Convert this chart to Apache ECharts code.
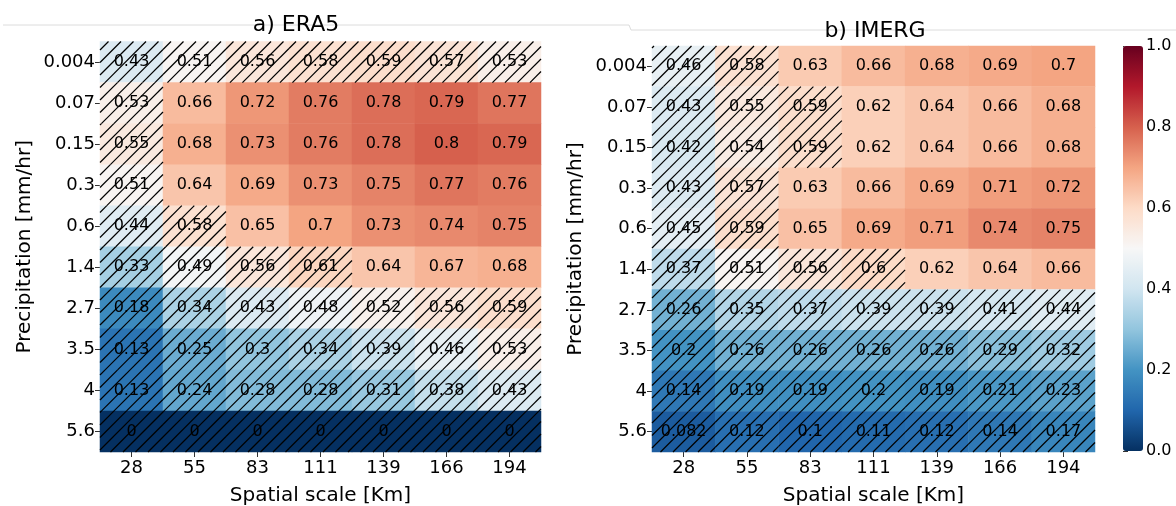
<!DOCTYPE html>
<html>
<head>
<meta charset="utf-8">
<script src="https://cdn.jsdelivr.net/npm/echarts@6/dist/echarts.min.js"></script>
<style>
  html, body { margin: 0; padding: 0; background: #fff; }
  #chart { width: 1176px; height: 506px; }
</style>
</head>
<body>
<div id="chart"></div>
<script>
  // spatial scale (columns) and precipitation thresholds (rows, top to bottom)
  const scales = ['28', '55', '83', '111', '139', '166', '194'];
  const precip = ['0.004', '0.07', '0.15', '0.3', '0.6', '1.4', '2.7', '3.5', '4', '5.6'];
  const cbTicks = [0, 0.2, 0.4, 0.6, 0.8, 1.0];

  const era5 = [
    [0.43, 0.51, 0.56, 0.58, 0.59, 0.57, 0.53],
    [0.53, 0.66, 0.72, 0.76, 0.78, 0.79, 0.77],
    [0.55, 0.68, 0.73, 0.76, 0.78, 0.8, 0.79],
    [0.51, 0.64, 0.69, 0.73, 0.75, 0.77, 0.76],
    [0.44, 0.58, 0.65, 0.7, 0.73, 0.74, 0.75],
    [0.33, 0.49, 0.56, 0.61, 0.64, 0.67, 0.68],
    [0.18, 0.34, 0.43, 0.48, 0.52, 0.56, 0.59],
    [0.13, 0.25, 0.3, 0.34, 0.39, 0.46, 0.53],
    [0.13, 0.24, 0.28, 0.28, 0.31, 0.38, 0.43],
    [0, 0, 0, 0, 0, 0, 0]
  ];
  const imerg = [
    [0.46, 0.58, 0.63, 0.66, 0.68, 0.69, 0.7],
    [0.43, 0.55, 0.59, 0.62, 0.64, 0.66, 0.68],
    [0.42, 0.54, 0.59, 0.62, 0.64, 0.66, 0.68],
    [0.43, 0.57, 0.63, 0.66, 0.69, 0.71, 0.72],
    [0.45, 0.59, 0.65, 0.69, 0.71, 0.74, 0.75],
    [0.37, 0.51, 0.56, 0.6, 0.62, 0.64, 0.66],
    [0.26, 0.35, 0.37, 0.39, 0.39, 0.41, 0.44],
    [0.2, 0.26, 0.26, 0.26, 0.26, 0.29, 0.32],
    [0.14, 0.19, 0.19, 0.2, 0.19, 0.21, 0.23],
    [0.082, 0.12, 0.1, 0.11, 0.12, 0.14, 0.17]
  ];
  // 1 = hatched (not significant)
  const era5Hatch = [
    [1, 1, 1, 1, 1, 1, 1],
    [1, 0, 0, 0, 0, 0, 0],
    [1, 0, 0, 0, 0, 0, 0],
    [1, 0, 0, 0, 0, 0, 0],
    [1, 1, 0, 0, 0, 0, 0],
    [1, 1, 1, 1, 0, 0, 0],
    [1, 1, 1, 1, 1, 1, 1],
    [1, 1, 1, 1, 1, 1, 1],
    [1, 1, 1, 1, 1, 1, 1],
    [1, 1, 1, 1, 1, 1, 1]
  ];
  const imergHatch = [
    [1, 1, 0, 0, 0, 0, 0],
    [1, 1, 1, 0, 0, 0, 0],
    [1, 1, 1, 0, 0, 0, 0],
    [1, 1, 0, 0, 0, 0, 0],
    [1, 1, 0, 0, 0, 0, 0],
    [1, 1, 1, 1, 0, 0, 0],
    [1, 1, 1, 1, 1, 1, 1],
    [1, 1, 1, 1, 1, 1, 1],
    [1, 1, 1, 1, 1, 1, 1],
    [1, 1, 1, 1, 1, 1, 1]
  ];

  // matplotlib RdBu_r
  const rdbu = ['#053061', '#2166ac', '#4393c3', '#92c5de', '#d1e5f0', '#f7f7f7',
                '#fddbc7', '#f4a582', '#d6604d', '#b2182b', '#67001f'];

  const FONT = 'DejaVu Sans';

  function cells(mat) {
    let out = [];
    mat.forEach((row, r) => row.forEach((v, c) => out.push([c, r, v])));
    return out;
  }
  function hatchCells(mask) {
    let out = [];
    mask.forEach((row, r) => row.forEach((h, c) => { if (h) out.push([c, r]); }));
    return out;
  }

  // '//' hatch, lines continuous across cells
  const SP = 12.5;
  function renderHatch(params, api) {
    let p = api.coord([api.value(0), api.value(1)]);
    let s = api.size([1, 1]);
    let x0 = p[0] - s[0] / 2, x1 = p[0] + s[0] / 2;
    let y0 = p[1] - s[1] / 2, y1 = p[1] + s[1] / 2;
    let kids = [];
    let kStart = Math.ceil((x0 + y0) / SP), kEnd = Math.floor((x1 + y1) / SP);
    for (let k = kStart; k <= kEnd; k++) {
      let c = k * SP;
      let xa = Math.max(x0, c - y1), xb = Math.min(x1, c - y0);
      if (xb <= xa) continue;
      kids.push({
        type: 'line',
        shape: { x1: xa, y1: c - xa, x2: xb, y2: c - xb },
        style: { stroke: '#000', lineWidth: 1.2 }
      });
    }
    return { type: 'group', children: kids };
  }

  function xAx(idx) {
    return {
      type: 'category', gridIndex: idx, data: scales,
      name: 'Spatial scale [Km]', nameLocation: 'middle', nameGap: 34,
      nameTextStyle: { fontFamily: FONT, fontSize: 20, color: '#000' },
      axisLine: { show: false },
      axisTick: { show: true, alignWithLabel: true, length: 5, lineStyle: { color: '#333' } },
      axisLabel: { fontFamily: FONT, fontSize: 18, color: '#000', margin: 7 },
      splitLine: { show: false }
    };
  }
  function yAx(idx, gap) {
    return {
      type: 'category', gridIndex: idx, data: precip, inverse: true,
      name: 'Precipitation [mm/hr]', nameLocation: 'middle', nameGap: gap, nameRotate: 90,
      nameTextStyle: { fontFamily: FONT, fontSize: 20, color: '#000' },
      axisLine: { show: false },
      axisTick: { show: true, alignWithLabel: true, length: 5, lineStyle: { color: '#333' } },
      axisLabel: { fontFamily: FONT, fontSize: 18, color: '#000', margin: 5 },
      splitLine: { show: false }
    };
  }
  function heat(idx, mat) {
    return {
      type: 'heatmap', xAxisIndex: idx, yAxisIndex: idx, data: cells(mat),
      label: {
        show: true, color: '#000', fontFamily: FONT, fontSize: 16,
        formatter: p => String(p.value[2])
      },
      emphasis: { disabled: true },
      z: 2
    };
  }
  function hatch(idx, mask) {
    return {
      type: 'custom', xAxisIndex: idx, yAxisIndex: idx, data: hatchCells(mask),
      renderItem: renderHatch, silent: true, z: 3
    };
  }

  let chart = echarts.init(document.getElementById('chart'));
  chart.setOption({
    backgroundColor: '#fff',
    animation: false,
    title: [
      { text: 'a) ERA5', left: 291, top: 9, textAlign: 'center',
        textStyle: { fontFamily: FONT, fontSize: 22, fontWeight: 'normal', color: '#000' } },
      { text: 'b) IMERG', left: 870, top: 15, textAlign: 'center',
        textStyle: { fontFamily: FONT, fontSize: 22, fontWeight: 'normal', color: '#000' } }
    ],
    graphic: [{
      type: 'polyline', silent: true, z: -1,
      shape: { points: [[3, 25], [629, 25], [631, 30], [1176, 30]] },
      style: { stroke: '#dcdcdc', lineWidth: 1, fill: null }
    }],
    grid: [
      { left: 100, top: 41.5, width: 441, height: 410.5, outerBoundsMode: 'none' },
      { left: 652, top: 46, width: 443, height: 406, outerBoundsMode: 'none' },
      { left: 1123, top: 46, width: 20, height: 405, outerBoundsMode: 'none' }
    ],
    xAxis: [
      xAx(0), xAx(1),
      { type: 'value', gridIndex: 2, show: false, min: 0, max: 1 }
    ],
    yAxis: [
      yAx(0, 65), yAx(1, 66),
      {
        type: 'value', gridIndex: 2, position: 'right', min: 0, max: 1, interval: 0.2,
        axisLine: { show: false },
        axisTick: { show: true, length: 5, lineStyle: { color: '#333' } },
        axisLabel: { fontFamily: FONT, fontSize: 16, color: '#000', margin: 3,
                     formatter: v => v.toFixed(1) },
        splitLine: { show: false }
      }
    ],
    visualMap: {
      type: 'continuous', min: 0, max: 1, seriesIndex: [0, 2],
      calculable: false, realtime: false, hoverLink: false,
      left: 1123, top: 46, itemWidth: 20, itemHeight: 405, padding: 0,
      text: ['', ''], showLabel: false,
      inRange: { color: rdbu }
    },
    series: [
      heat(0, era5), hatch(0, era5Hatch),
      heat(1, imerg), hatch(1, imergHatch)
    ]
  });
</script>
</body>
</html>
